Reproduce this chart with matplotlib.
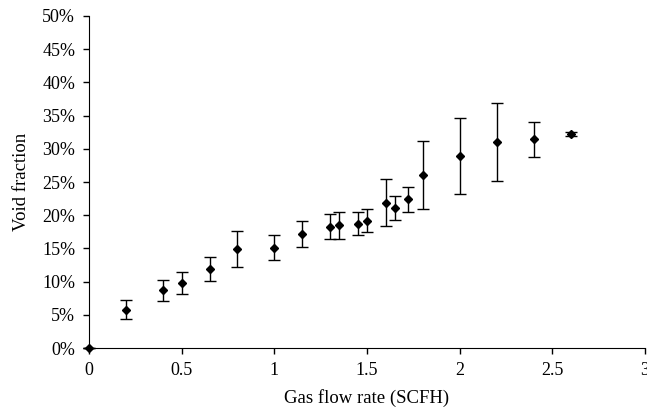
import matplotlib.pyplot as plt
from matplotlib.ticker import FuncFormatter

flow = [0, 0.2, 0.4, 0.5, 0.65, 0.8, 1.0, 1.15, 1.3, 1.35, 1.45, 1.5,
        1.6, 1.65, 1.72, 1.8, 2.0, 2.2, 2.4, 2.6]
void = [0.0, 5.8, 8.7, 9.8, 11.9, 14.9, 15.1, 17.2, 18.3, 18.5, 18.7, 19.2,
        21.9, 21.1, 22.4, 26.1, 28.9, 31.0, 31.4, 32.2]
err = [0.0, 1.5, 1.55, 1.65, 1.8, 2.75, 1.85, 1.95, 1.9, 2.05, 1.75, 1.8,
       3.55, 1.75, 1.85, 5.1, 5.7, 5.85, 2.7, 0.3]

plt.rcParams['font.family'] = ['Liberation Serif', 'DejaVu Serif']
plt.rcParams['font.size'] = 13

fig = plt.figure(figsize=(6.47, 4.09), dpi=100)
ax = fig.add_axes([0.1376, 0.149, 0.8594, 0.812])

ax.errorbar(flow, void, yerr=err, fmt='D', color='black', markersize=4,
            ecolor='black', elinewidth=1, capsize=4.5, capthick=1, clip_on=False)

ax.set_xlim(0, 3)
ax.set_ylim(0, 50)
ax.set_xticks([0, 0.5, 1, 1.5, 2, 2.5, 3])
ax.set_xticklabels(['0', '0.5', '1', '1.5', '2', '2.5', '3'])
ax.set_yticks(range(0, 51, 5))
ax.yaxis.set_major_formatter(FuncFormatter(lambda v, p: '%d%%' % v))

ax.spines['top'].set_visible(False)
ax.spines['right'].set_visible(False)
ax.tick_params(direction='out', length=4, width=1, colors='black', labelsize=13)
ax.tick_params(axis='x', pad=6)
ax.tick_params(axis='y', pad=6)

ax.set_xlabel('Gas flow rate (SCFH)', fontsize=13.5, labelpad=7)
ax.set_ylabel('Void fraction', fontsize=13.5, labelpad=9)

fig.savefig('out.png', dpi=100)
